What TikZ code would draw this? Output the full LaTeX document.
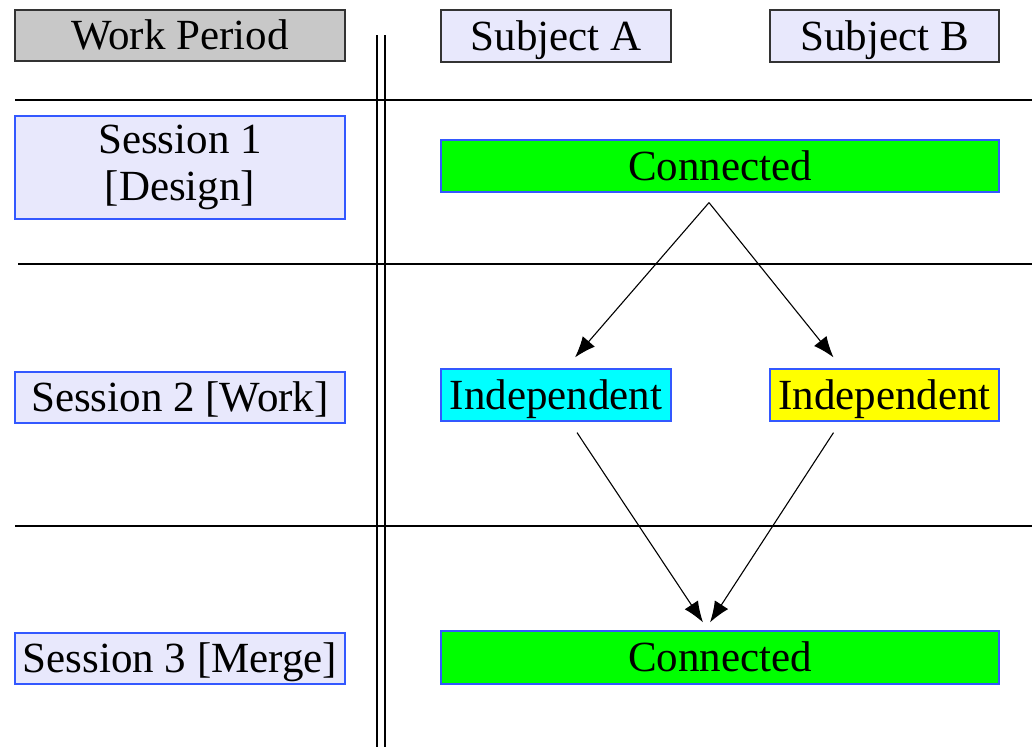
\documentclass[tikz,border=0pt]{standalone}
\usepackage{fontspec}
\setmainfont{Liberation Serif}
\usepackage{xcolor}
\usetikzlibrary{arrows.meta}
\definecolor{lavend}{HTML}{E8E8FC}
\definecolor{boxblue}{HTML}{3358FF}
\definecolor{headgray}{HTML}{C8C8C8}
\definecolor{brightgreen}{HTML}{00FF00}
\definecolor{brightcyan}{HTML}{00FFFF}
\definecolor{brightyellow}{HTML}{FFFF00}
\tikzset{
  box/.style={draw=boxblue,line width=1.2pt,fill=lavend,inner sep=0pt,
    font=\fontsize{43}{47}\selectfont,align=center},
  oneline/.style={box,text height=29pt,text depth=1pt},
  headbox/.style={oneline,draw=black!80},
  flow/.style={line width=1.1pt,-{Latex[length=21pt,width=16pt]}},
  rule/.style={line width=1.4pt}
}
\begin{document}
\begin{tikzpicture}[x=1pt,y=-1pt]
        \useasboundingbox (0,0) rectangle (1032,747);
        % kopfzeile
        \node[headbox,fill=headgray,minimum width=330,minimum height=51] (period) at (180,35.5) {Work Period};
        \node[headbox,minimum width=230,minimum height=52] (subA) at (556,36) {Subject A};
        \node[headbox,minimum width=229,minimum height=52] (subB) at (884.5,36) {Subject B};
        % trennlinien
        \draw[rule] (15,100) -- (1032,100);
        \draw[rule] (18,264) -- (1032,264);
        \draw[rule] (15,526) -- (1032,526);
        \draw[rule] (377,35) -- (377,747);
        \draw[rule] (385,35) -- (385,747);
        % sitzungen
        \node[box,minimum width=330,minimum height=103] (sesOne) at (180,167.5) {Session 1\\\relax [Design]};
        \node[oneline,minimum width=330,minimum height=51] (sesTwo) at (180,397.5) {Session 2 [Work]};
        \node[oneline,minimum width=330,minimum height=51] (sesThree) at (180,658.5) {Session 3 [Merge]};
        % zustaende
        \node[oneline,fill=brightgreen,minimum width=558,minimum height=52] (conTop) at (720,166) {Connected};
        \node[oneline,fill=brightcyan,minimum width=230,minimum height=52] (indA) at (556,395) {Independent};
        \node[oneline,fill=brightyellow,minimum width=229,minimum height=52] (indB) at (884.5,395) {Independent};
        \node[oneline,fill=brightgreen,minimum width=558,minimum height=53] (conBot) at (720,657.5) {Connected};
        % pfeile
        \draw[flow] ([xshift=-11,yshift=-10]conTop.south) -- ([xshift=19,yshift=11]indA.north);
        \draw[flow] ([xshift=-11,yshift=-10]conTop.south) -- ([xshift=-51,yshift=11]indB.north);
        \draw[flow] ([xshift=21,yshift=-11]indA.south) -- ([xshift=-17,yshift=8]conBot.north);
        \draw[flow] ([xshift=-51,yshift=-11]indB.south) -- ([xshift=-10,yshift=8]conBot.north);
\end{tikzpicture}
\end{document}
